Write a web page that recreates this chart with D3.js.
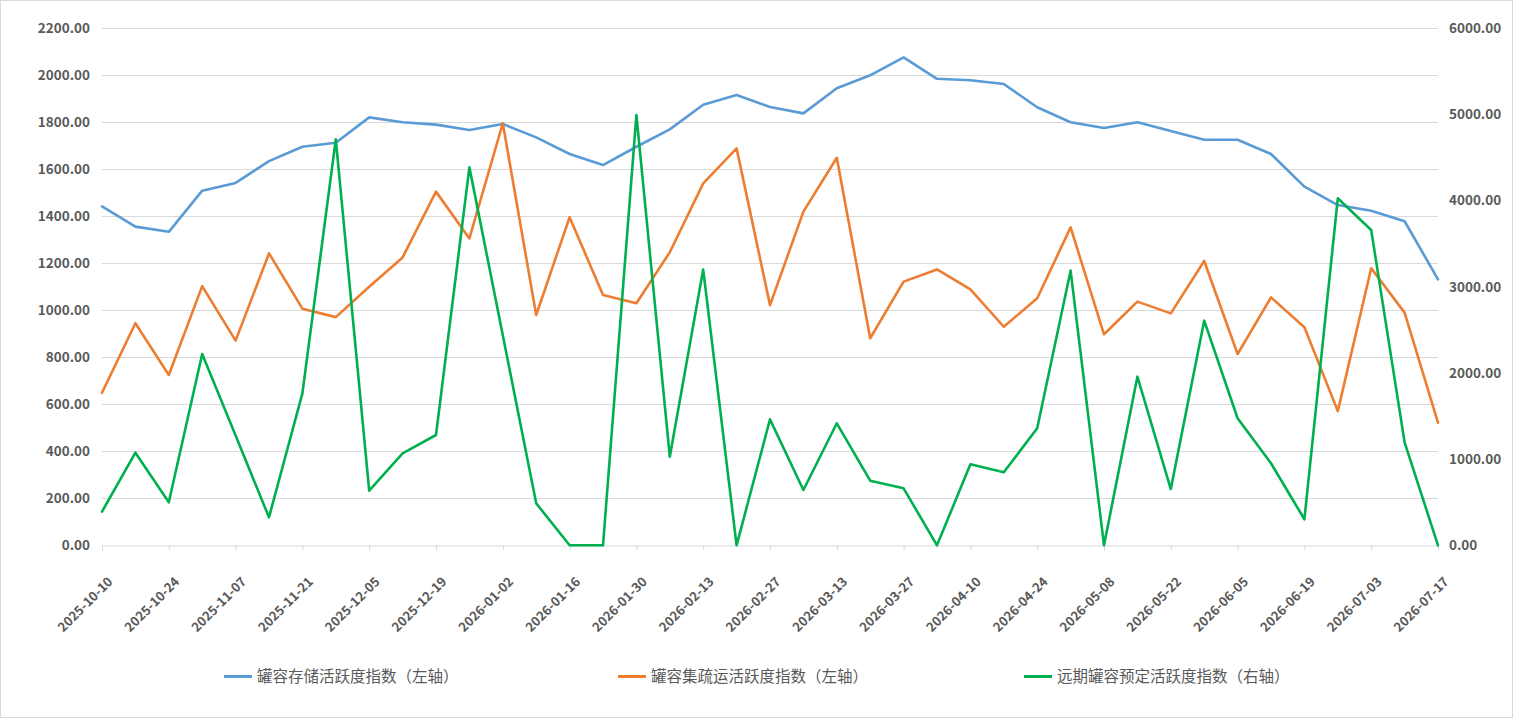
<!DOCTYPE html>
<html><head><meta charset="utf-8">
<script src="https://cdn.jsdelivr.net/npm/d3@7"></script>
<style>
html,body{margin:0;padding:0;background:#fff;}
svg{display:block;}
</style></head>
<body>
<svg id="chart" width="1513" height="718"></svg>
<script>
const dates = ["2025-10-10","2025-10-17","2025-10-24","2025-10-31","2025-11-07","2025-11-14","2025-11-21","2025-11-28","2025-12-05","2025-12-12","2025-12-19","2025-12-26","2026-01-02","2026-01-09","2026-01-16","2026-01-23","2026-01-30","2026-02-06","2026-02-13","2026-02-20","2026-02-27","2026-03-06","2026-03-13","2026-03-20","2026-03-27","2026-04-03","2026-04-10","2026-04-17","2026-04-24","2026-05-01","2026-05-08","2026-05-15","2026-05-22","2026-05-29","2026-06-05","2026-06-12","2026-06-19","2026-06-26","2026-07-03","2026-07-10","2026-07-17"];
const storage = [1442,1356,1334,1509,1542,1635,1696,1713,1821,1800,1790,1767,1793,1736,1665,1618,1696,1770,1875,1916,1865,1838,1945,2000,2076,1985,1979,1963,1864,1800,1776,1800,1763,1726,1726,1665,1526,1448,1424,1379,1132];
const transport = [649,945,725,1103,871,1242,1007,971,1100,1225,1505,1306,1796,980,1396,1065,1030,1247,1540,1689,1022,1420,1649,881,1122,1174,1089,930,1051,1353,898,1037,987,1210,814,1055,928,571,1179,990,522];
const booking = [390,1075,499,2220,1273,325,1764,4712,634,1068,1280,4387,2437,487,0,0,4994,1028,3200,0,1462,642,1416,750,661,0,940,847,1358,3187,0,1957,653,2607,1474,952,302,4027,3659,1195,0];
const leftTicks = [0,200,400,600,800,1000,1200,1400,1600,1800,2000,2200];
const rightTicks = [0,1000,2000,3000,4000,5000,6000];
const seriesNames = ["罐容存储活跃度指数（左轴）","罐容集疏运活跃度指数（左轴）","远期罐容预定活跃度指数（右轴）"];
const seriesColors = ["#5B9BD5","#ED7D31","#00B050"];

const svg = d3.select("#chart");
const L = 102, R = 1438, T = 28.3, B = 545.3;
const textColor = "#595959";
const font = "'Noto Sans CJK SC','Noto Sans',sans-serif";

svg.append("rect").attr("x",0.5).attr("y",0.5).attr("width",1512).attr("height",717)
  .attr("fill","#fff").attr("stroke","#d9d9d9");

const x = d3.scalePoint().domain(dates).range([L,R]);
const yL = d3.scaleLinear().domain([0,2200]).range([B,T]);
const yR = d3.scaleLinear().domain([0,6000]).range([B,T]);
const fmt = d3.format(".2f");

// gridlines
svg.append("g").selectAll("line").data(leftTicks.filter(d=>d>0)).join("line")
  .attr("x1",L).attr("x2",R).attr("y1",d=>Math.round(yL(d))+0.5).attr("y2",d=>Math.round(yL(d))+0.5)
  .attr("stroke","#d9d9d9").attr("stroke-width",1);

// left axis
const gl = svg.append("g").attr("transform",`translate(${L},0)`)
  .call(d3.axisLeft(yL).tickValues(leftTicks).tickFormat(fmt).tickSize(0).tickPadding(12));
gl.select(".domain").remove();
gl.selectAll("text").attr("fill",textColor).style("font-family",font).style("font-size","13.5px").style("font-weight","700");

// right axis
const gr = svg.append("g").attr("transform",`translate(${R},0)`)
  .call(d3.axisRight(yR).tickValues(rightTicks).tickFormat(fmt).tickSize(0).tickPadding(11));
gr.select(".domain").remove();
gr.selectAll("text").attr("fill",textColor).style("font-family",font).style("font-size","13.5px").style("font-weight","700");

// bottom axis
const tickDates = dates.filter((d,i)=>i%2===0);
const gb = svg.append("g").attr("transform",`translate(0,${Math.round(B)+0.5})`)
  .call(d3.axisBottom(x).tickValues(tickDates).tickSize(5).tickSizeOuter(0).tickFormat(""));
gb.select(".domain").attr("stroke","#d9d9d9");
gb.selectAll(".tick line").attr("stroke","#d9d9d9");
gb.selectAll(".tick").append("text")
  .attr("text-anchor","end")
  .attr("transform","translate(11,37) rotate(-45)")
  .attr("fill",textColor).style("font-family",font).style("font-size","13px").style("font-weight","700")
  .text(d=>d);

// lines
const series = [
  {vals:storage, scale:yL},
  {vals:transport, scale:yL},
  {vals:booking, scale:yR}
];
series.forEach((s,k)=>{
  const line = d3.line().x((d,i)=>x(dates[i])).y(d=>s.scale(d));
  svg.append("path").datum(s.vals).attr("d",line)
    .attr("fill","none").attr("stroke",seriesColors[k]).attr("stroke-width",2.6)
    .attr("stroke-linejoin","round").attr("stroke-linecap","round");
});

// legend
const legX = [224, 618, 1024];
const lg = svg.append("g");
seriesNames.forEach((n,k)=>{
  const g = lg.append("g").attr("transform",`translate(${legX[k]},676.5)`);
  g.append("line").attr("x1",0).attr("x2",28).attr("y1",0).attr("y2",0)
    .attr("stroke",seriesColors[k]).attr("stroke-width",3);
  g.append("text").attr("x",33).attr("y",0).attr("dy","0.35em")
    .attr("fill",textColor).style("font-family",font).style("font-size","15.5px")
    .text(n);
});
</script>
</body></html>
